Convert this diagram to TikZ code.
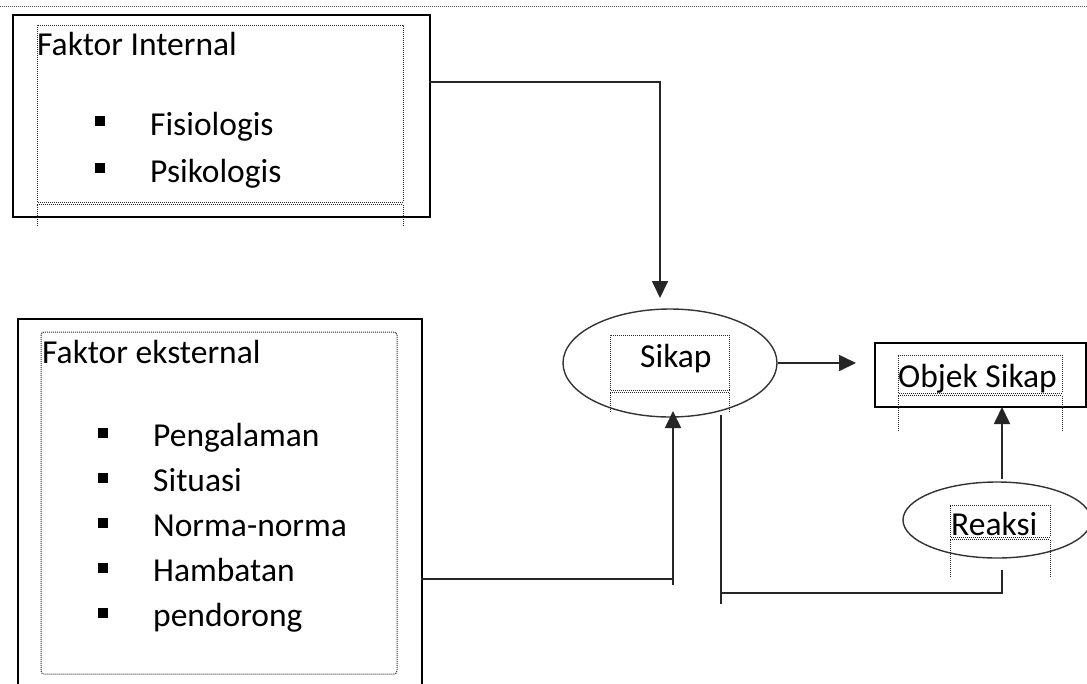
\documentclass[tikz,border=0pt]{standalone}
\usepackage{fontspec}
\setmainfont{Carlito}
\usetikzlibrary{shapes.geometric,arrows.meta}
\begin{document}
\begin{tikzpicture}[x=1pt,y=-1pt,
  frame/.style={draw=black,line width=1.8pt,inner sep=0pt},
  oval/.style={draw=black!80,line width=1.4pt,ellipse,inner sep=0pt},
  dotframe/.style={draw=black!85,line width=1pt,dash pattern=on 1pt off 1pt},
  conn/.style={draw=black!85,line width=1.7pt},
  arr/.style={conn,-{Triangle[length=17pt,width=16pt]}},
  lbl/.style={anchor=base west,inner sep=0pt,font=\fontsize{33.5}{40}\selectfont},
  bul/.style={fill=black,inner sep=0pt,minimum size=10pt,anchor=center}]
\path[use as bounding box,clip] (0,0) rectangle (1087,683);
\fill[white] (0,0) rectangle (1087,683);
% top dotted rule
\draw[dotframe,black!65] (0,6) -- (1087,6);
% boxes and ovals
\node[frame,minimum width=417pt,minimum height=202pt,anchor=north west] (intbox) at (12,14) {};
\node[frame,minimum width=404pt,minimum height=400pt,anchor=north west] (extbox) at (17,318) {};
\node[oval,minimum width=214pt,minimum height=108pt] (sikap) at (670,363) {};
\node[frame,minimum width=211pt,minimum height=64pt,anchor=north west] (objek) at (874,342) {};
\node[oval,minimum width=188pt,minimum height=76pt] (reaksi) at (997,520) {};
% dotted text frames
\draw[dotframe] (37,202) -- (37,25) -- (403,25) -- (403,202) -- cycle;
\draw[dotframe] (37,204.5) -- (403,204.5);
\draw[dotframe] (37,205) -- (37,226) (403,205) -- (403,226);
\draw[dotframe,rounded corners=3pt] (41,332) rectangle (397,674);
\draw[dotframe] (610,390) -- (610,335) -- (729,335) -- (729,390) -- cycle;
\draw[dotframe] (610,392.5) -- (729,392.5);
\draw[dotframe] (610,393) -- (610,412) (729,393) -- (729,412);
\draw[dotframe] (898,393) -- (898,355) -- (1062,355) -- (1062,393) -- cycle;
\draw[dotframe] (898,395.5) -- (1062,395.5);
\draw[dotframe] (898,396) -- (898,432) (1062,396) -- (1062,432);
\draw[dotframe] (950,537) -- (950,505) -- (1050,505) -- (1050,537) -- cycle;
\draw[dotframe] (950,539.5) -- (1050,539.5);
\draw[dotframe] (950,540) -- (950,578) (1050,540) -- (1050,578);
% texts
\node[lbl] (tint) at (37,55) {Faktor Internal};
\node[bul] (b1) at (100,121) {};
\node[lbl] (t1) at (150,135) {Fisiologis};
\node[bul] (b2) at (100,168) {};
\node[lbl] (t2) at (150,182) {Psikologis};
\node[lbl] (text) at (42,363) {Faktor eksternal};
\node[bul] (e1) at (103,433) {};
\node[lbl] (u1) at (153,446) {Pengalaman};
\node[bul] (e2) at (103,478) {};
\node[lbl] (u2) at (153,491) {Situasi};
\node[bul] (e3) at (103,523) {};
\node[lbl] (u3) at (153,536) {Norma-norma};
\node[bul] (e4) at (103,568) {};
\node[lbl] (u4) at (153,581) {Hambatan};
\node[bul] (e5) at (103,613) {};
\node[lbl] (u5) at (153,626) {pendorong};
\node[lbl] (tsikap) at (640,367) {Sikap};
\node[lbl] (tobjek) at (898,387) {Objek Sikap};
\node[lbl] (treaksi) at (951,535) {Reaksi};
% connector points
\coordinate (i1) at (429,82);
\coordinate (s1) at (660,298);
\coordinate (x1) at (421,579);
\coordinate (s2) at (673,585);
\coordinate (s3) at (673,411);
\coordinate (o1) at (856,363);
\coordinate (r0) at (721,415);
\coordinate (r1) at (721,604);
\coordinate (r2) at (721,593);
\coordinate (r3) at (1002,570);
\coordinate (q0) at (1002,479);
\coordinate (q1) at (1002,407);
% connectors
\draw[arr] (i1) -| (s1);
\draw[conn] (x1) -| (s2);
\draw[arr] (s2) -- (s3);
\draw[arr] (sikap.east) -- (o1);
\draw[conn] (r0) -- (r1);
\draw[conn] (r2) -| (r3);
\draw[arr] (q0) -- (q1);
\end{tikzpicture}
\end{document}
